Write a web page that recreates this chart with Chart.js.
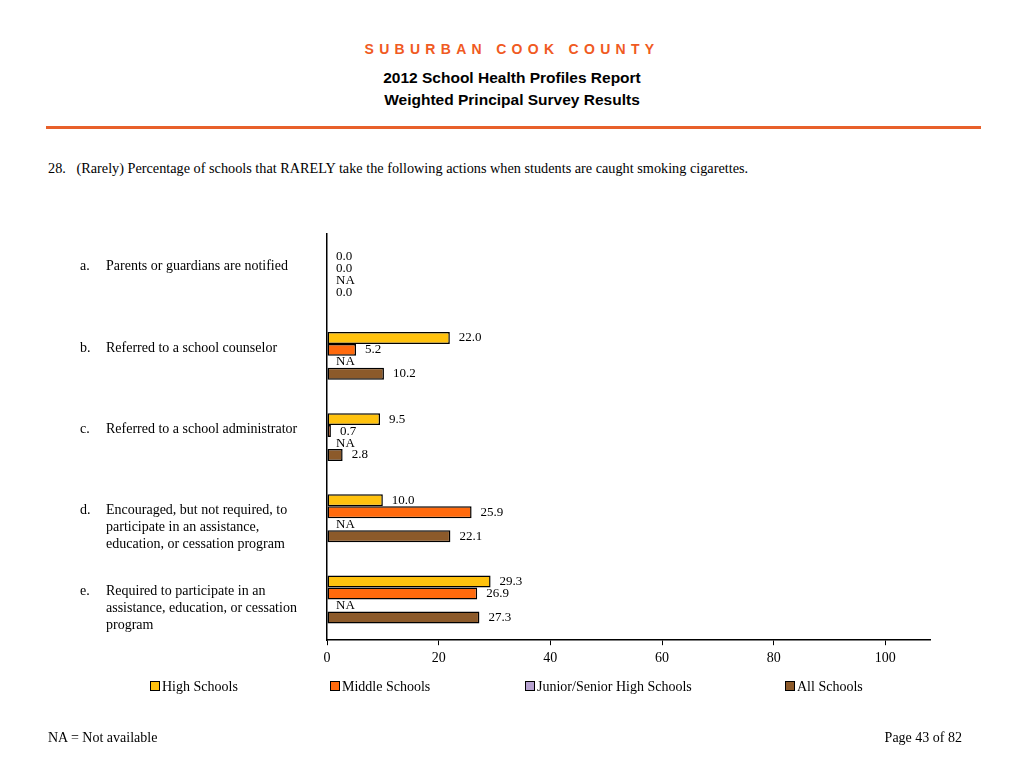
<!DOCTYPE html>
<html>
<head>
<meta charset="utf-8">
<script src="https://cdn.jsdelivr.net/npm/chart.js@4.4.1/dist/chart.umd.min.js"></script>
<style>
  html, body { margin: 0; padding: 0; background: #fff; }
  body { width: 1024px; height: 768px; position: relative; overflow: hidden; }
  .abs { position: absolute; white-space: nowrap; }
  #county { left: 0; width: 1024px; top: 41px; text-align: center; font: bold 14px "Liberation Sans", Arial, sans-serif; color: #F05A22; letter-spacing: 5.3px; }
  .title { left: 0; width: 1024px; text-align: center; font: bold 15.5px "Liberation Sans", Arial, sans-serif; color: #000; }
  #rule { left: 46px; top: 126px; width: 935px; height: 3px; background: #E8602A; }
  .serif { font: 14px "Liberation Serif", "Times New Roman", serif; color: #000; }
  #question { font-size: 14.25px; }
  #chartBox { position: absolute; left: 0; top: 0; width: 1024px; height: 768px; }
  #legend span.sw { display: inline-block; width: 8px; height: 8px; border: 1px solid #000; margin-right: 2px; vertical-align: 0px; }
</style>
</head>
<body>
<div id="county" class="abs">SUBURBAN COOK COUNTY</div>
<div class="abs title" style="top:69px">2012 School Health Profiles Report</div>
<div class="abs title" style="top:91px">Weighted Principal Survey Results</div>
<div id="rule" class="abs"></div>
<div id="question" class="abs serif" style="left:48px; top:160px">28.&nbsp;&nbsp;&nbsp;(Rarely) Percentage of schools that RARELY take the following actions when students are caught smoking cigarettes.</div>
<div id="chartBox"><canvas id="chart" width="1024" height="768"></canvas></div>
<div id="legend"></div>
<div class="abs serif" style="left:48px; top:730px">NA = Not available</div>
<div class="abs serif" style="right:62px; top:730px">Page 43 of 82</div>
<script>
// categories and series
var letters = ["a.", "b.", "c.", "d.", "e."];
var categories = [
    ["Parents or guardians are notified"],
    ["Referred to a school counselor"],
    ["Referred to a school administrator"],
    ["Encouraged, but not required, to", "participate in an assistance,", "education, or cessation program"],
    ["Required to participate in an", "assistance, education, or cessation", "program"]
];
var highSchools   = [0.0, 22.0, 9.5, 10.0, 29.3];
var middleSchools = [0.0, 5.2, 0.7, 25.9, 26.9];
var juniorSenior  = [null, null, null, null, null];
var allSchools    = [0.0, 10.2, 2.8, 22.1, 27.3];
var xTicks = [0, 20, 40, 60, 80, 100];

var seriesNames  = ["High Schools", "Middle Schools", "Junior/Senior High Schools", "All Schools"];
var seriesColors = ["#FFC20E", "#FF6A0D", "#B7A2D0", "#8C5A2A"];
var legendX = [150, 330, 525, 785];

var serif = "'Liberation Serif', 'Times New Roman', serif";

//value labels next to each bar, NA where missing
var valueLabels = {
    id: "valueLabels",
    afterDatasetsDraw: function(chart) {
        var ctx = chart.ctx;
        var left = chart.chartArea.left;
        ctx.save();
        ctx.font = "13px " + serif;
        ctx.fillStyle = "#000";
        ctx.textAlign = "left";
        ctx.textBaseline = "middle";
        chart.data.datasets.forEach(function(ds, di) {
            var meta = chart.getDatasetMeta(di);
            meta.data.forEach(function(bar, i) {
                var v = ds.data[i];
                var y = bar.y;
                if (v === null || v === undefined) {
                    ctx.fillText("NA", left + 9, y);
                } else {
                    ctx.fillText(v.toFixed(1), bar.x + 9, y);
                }
            });
        });
        ctx.restore();
    }
};

//category labels on the left
var categoryLabels = {
    id: "categoryLabels",
    afterDraw: function(chart) {
        var ctx = chart.ctx;
        var yScale = chart.scales.y;
        ctx.save();
        ctx.font = "14px " + serif;
        ctx.fillStyle = "#000";
        ctx.textAlign = "left";
        ctx.textBaseline = "middle";
        categories.forEach(function(lines, i) {
            var y0 = yScale.getPixelForValue(i) - 8;
            ctx.fillText(letters[i], 80, y0);
            lines.forEach(function(line, j) {
                ctx.fillText(line, 106, y0 + j * 17);
            });
        });
        ctx.restore();
    }
};

var ctx = document.getElementById("chart");

var chart = new Chart(ctx, {
    type: "bar",
    data: {
        labels: categories.map(function(c) { return c.join(" "); }),
        datasets: [
            { label: seriesNames[0], data: highSchools },
            { label: seriesNames[1], data: middleSchools },
            { label: seriesNames[2], data: juniorSenior },
            { label: seriesNames[3], data: allSchools }
        ].map(function(ds, i) {
            ds.backgroundColor = seriesColors[i];
            ds.borderColor = "#000";
            ds.borderWidth = 1.5;
            ds.borderSkipped = false;
            ds.categoryPercentage = 0.59;
            ds.barPercentage = 1.0;
            return ds;
        })
    },
    options: {
        indexAxis: "y",
        responsive: false,
        animation: false,
        devicePixelRatio: 1,
        layout: { padding: { left: 327, right: 94, top: 234, bottom: 96 } },
        plugins: {
            legend: { display: false },
            tooltip: { enabled: false }
        },
        scales: {
            x: {
                min: 0,
                max: 108,
                afterBuildTicks: function(axis) {
                    axis.ticks = xTicks.map(function(v) { return { value: v }; });
                },
                grid: { drawOnChartArea: false, drawTicks: true, tickLength: 5, color: "#000", lineWidth: 1 },
                border: { display: true, color: "#000", width: 1.5 },
                ticks: { color: "#000", font: { family: serif, size: 14 }, padding: 5, maxRotation: 0 }
            },
            y: {
                grid: { display: false, drawTicks: false },
                border: { display: true, color: "#000", width: 1.5 },
                ticks: { display: false }
            }
        }
    },
    plugins: [valueLabels, categoryLabels]
});

// legend built from the dataset names/colors
var legend = document.getElementById("legend");
seriesNames.forEach(function(name, i) {
    var d = document.createElement("div");
    d.className = "abs serif";
    d.style.left = legendX[i] + "px";
    d.style.top = "679px";
    d.style.fontSize = "14px";
    d.innerHTML = '<span class="sw" style="background:' + seriesColors[i] + '"></span>' + name;
    legend.appendChild(d);
});
</script>
</body>
</html>
